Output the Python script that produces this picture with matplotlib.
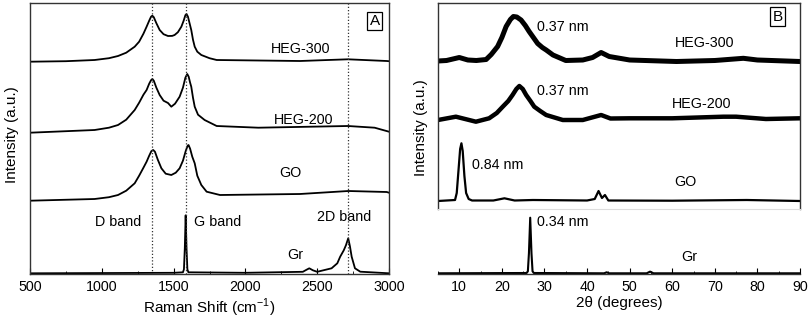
import matplotlib
matplotlib.use("Agg")
import matplotlib.pyplot as plt
from matplotlib.ticker import MultipleLocator

plt.rcParams["font.family"] = ["Liberation Sans", "DejaVu Sans"]

# ---- Panel A: Raman spectra (intensity above each trace's baseline) ----
heg300_raman_x = [500, 750, 950, 1050, 1113, 1170, 1229, 1260, 1290, 1312, 1330, 1343, 1352,
                  1362, 1380, 1403, 1430, 1461, 1490, 1507, 1530, 1554, 1570, 1582, 1590,
                  1600, 1612, 1623, 1635, 1647, 1665, 1693, 1750, 1800, 2380, 2714, 2984, 3000]
heg300_raman_y = [0, 0.5, 1.7, 3.5, 5.7, 9, 15, 20, 28, 35, 41, 45, 46,
                  44.5, 38.5, 31.7, 27.5, 25.7, 25.8, 26.7, 29.5, 35, 41, 46.5, 47.7,
                  45, 38, 31.7, 22, 15, 10, 6.7, 3.5, 1.7, 0.7, 2.4, 0.7, 0.5]

heg200_raman_x = [500, 750, 950, 1050, 1113, 1170, 1229, 1260, 1290, 1312, 1330, 1343, 1352,
                  1362, 1380, 1403, 1430, 1461, 1484, 1510, 1542, 1565, 1582, 1595, 1605,
                  1615, 1623, 1635, 1647, 1670, 1716, 1800, 2090, 2714, 2900, 3000]
heg200_raman_y = [0, 1.5, 2.7, 5, 7.7, 13, 22.7, 30, 38, 42.7, 49, 52.5, 53.7,
                  52, 45, 37.7, 32, 29.7, 26, 29, 36, 45, 55, 58.7, 56,
                  50, 46, 35, 26, 18, 12.7, 6.7, 5, 6.7, 5, 1]

go_raman_x = [500, 950, 1050, 1113, 1170, 1229, 1260, 1290, 1312, 1330, 1345, 1358, 1370,
              1390, 1415, 1445, 1484, 1515, 1542, 1565, 1585, 1598, 1604, 1615, 1630,
              1647, 1665, 1693, 1730, 1823, 2380, 2717, 2984, 3000]
go_raman_y = [0, 1.7, 3.5, 5.7, 10, 17.4, 25, 33, 39, 45, 49.5, 50.7, 49,
              41, 32.4, 27, 25.7, 28, 32.4, 40, 50, 55, 55.7, 52, 44,
              37.4, 25, 15.7, 9, 5.7, 6.7, 9.7, 8.7, 8]

gr_raman_x = [500, 1500, 1565, 1572, 1578, 1584, 1590, 1596, 1603, 2000, 2400, 2425, 2445,
              2470, 2500, 2600, 2640, 2660, 2685, 2700, 2716, 2728, 2740, 2763, 2800, 3000]
gr_raman_y = [0, 0.5, 1, 4, 25, 58, 25, 4, 1, 0.5, 1.5, 3.5, 5,
              3, 1.5, 5, 10, 16.6, 23, 28, 35, 27, 16.6, 5, 1.6, 0]

raman_offsets = [212.3, 141.3, 73.3, 0.7]
raman_names = ["HEG-300", "HEG-200", "GO", "Gr"]
band_positions = [1350, 1585, 2715]

# ---- Panel B: XRD patterns ----
heg300_xrd_x = [5, 7, 10, 12, 14, 16.3, 17.5, 19, 20, 21, 22, 22.7, 23.5, 24.5, 25.5,
                26.4, 27.4, 28.4, 29.5, 30.4, 32, 35, 39, 41.3, 43.3, 45.2, 50, 61, 70,
                76.7, 80, 90]
heg300_xrd_y = [0.5, 1, 4, 1.5, 1, 2, 7, 15, 24, 35, 42, 45, 44.5, 41.5, 36,
                30, 24, 18, 14, 11.5, 6.5, 1, 1.5, 4, 9, 5, 1.5, 0, 1,
                3.2, 1.5, 0]

heg200_xrd_x = [5, 9.2, 13.9, 17, 18.8, 20.2, 21.5, 22.5, 23.4, 24.1, 24.9, 25.7, 26.7,
                27.6, 29, 30.4, 34.3, 39, 43.3, 45.5, 50, 60, 72, 75, 82, 90]
heg200_xrd_y = [0, 3.3, -1.7, 1.7, 7, 13.3, 19, 25, 31, 34, 31, 25, 19,
                13.3, 9, 5, 0, 0, 5, 1.5, 1.7, 1.7, 3.3, 3.3, 1, 1.7]

go_xrd_x = [5, 9, 9.4, 9.8, 10.2, 10.5, 10.8, 11.2, 11.6, 12.2, 13, 18, 20.6, 23, 27.3,
            40, 41.8, 42.7, 43.5, 44.2, 45, 60, 77.5, 90]
go_xrd_y = [0, 1, 8, 30, 52, 57.7, 50, 25, 8, 2, 0.5, 0.5, 2.7, 0.5, 1,
            0.5, 2, 10, 3, 6, 0.5, 0.3, 1, 0]

gr_xrd_x = [5, 25.8, 26.1, 26.35, 26.65, 26.95, 27.2, 27.5, 44, 44.6, 45.2, 54, 54.8,
            55.6, 90]
gr_xrd_y = [0, 0.3, 2, 20, 55.6, 20, 2, 0.3, 0, 1, 0, 0, 1.7,
            0, 0]

xrd_offsets = [212.5, 154, 73, 0.7]
xrd_names = ["HEG-300", "HEG-200", "GO", "Gr"]
spacing_labels = ["0.37 nm", "0.37 nm", "0.84 nm", "0.34 nm"]

W, H = 808, 322
fig = plt.figure(figsize=(W / 100, H / 100), dpi=100)
fig.patch.set_facecolor("white")


def frac(x0, y0, x1, y1):
    return [x0 / W, 1 - y1 / H, (x1 - x0) / W, (y1 - y0) / H]


spine_color = "#333333"
fs = 10.3

# Panel A
ax = fig.add_axes(frac(30, 3, 389, 274))
raman_x = [heg300_raman_x, heg200_raman_x, go_raman_x, gr_raman_x]
raman_y = [heg300_raman_y, heg200_raman_y, go_raman_y, gr_raman_y]
for xs, ys, off in zip(raman_x, raman_y, raman_offsets):
    ax.plot(xs, [v + off for v in ys], color="black", lw=1.3)
for pos in band_positions:
    ax.axvline(pos, color="#333333", lw=0.9, ls=(0, (1, 1.6)))
ax.set_xlim(500, 3000)
ax.set_ylim(0, 271)
ax.set_yticks([])
ax.xaxis.set_major_locator(MultipleLocator(500))
ax.xaxis.set_minor_locator(MultipleLocator(250))
ax.tick_params(axis="x", which="major", direction="in", length=4, labelsize=fs, pad=4)
ax.tick_params(axis="x", which="minor", direction="in", length=2.5)
for s in ax.spines.values():
    s.set_color(spine_color)
    s.set_linewidth(1.0)
ax.text(2387, 225, raman_names[0], fontsize=fs, ha="center", va="center")
ax.text(2408, 154, raman_names[1], fontsize=fs, ha="center", va="center")
ax.text(2310, 101, raman_names[2], fontsize=fs, ha="center", va="center")
ax.text(2345, 19, raman_names[3], fontsize=fs, ha="center", va="center")
ax.text(1113, 52, "D band", fontsize=fs, ha="center", va="center")
ax.text(1810, 52, "G band", fontsize=fs, ha="center", va="center")
ax.text(2687, 57, "2D band", fontsize=fs, ha="center", va="center")
ax.text(2900, 253, "A", fontsize=11, ha="center", va="center",
        bbox=dict(boxstyle="square,pad=0.15", fc="white", ec="black", lw=0.9))
ax.set_xlabel("Raman Shift (cm$^{\\mathregular{-1}}$)", fontsize=11, labelpad=2)
fig.text(12 / W, 1 - 135 / H, "Intensity (a.u.)", rotation=90, fontsize=11,
         ha="center", va="center")

# Panel B (upper: HEG-300, HEG-200, GO; lower: Gr)
axu = fig.add_axes(frac(438, 3, 800, 209))
axl = fig.add_axes(frac(438, 209, 800, 274), sharex=axu)
xrd_x = [heg300_xrd_x, heg200_xrd_x, go_xrd_x]
xrd_y = [heg300_xrd_y, heg200_xrd_y, go_xrd_y]
widths = [3.6, 3.2, 1.6]
for xs, ys, off, lw in zip(xrd_x, xrd_y, xrd_offsets[:3], widths):
    axu.plot(xs, [v + off for v in ys], color="black", lw=lw)
axl.plot(gr_xrd_x, [v + xrd_offsets[3] for v in gr_xrd_y], color="black", lw=1.5)
axu.set_xlim(5, 90)
axu.set_ylim(65, 271)
axl.set_ylim(0, 65)
for a in (axu, axl):
    a.set_yticks([])
    for s in a.spines.values():
        s.set_color(spine_color)
        s.set_linewidth(1.0)
axu.spines["bottom"].set_color("#dddddd")
axu.spines["bottom"].set_linewidth(0.8)
axu.tick_params(axis="x", which="both", bottom=False, labelbottom=False)
axl.spines["left"].set_visible(False)
axl.spines["right"].set_visible(False)
axl.spines["top"].set_visible(False)
axl.patch.set_alpha(0)
axl.xaxis.set_major_locator(MultipleLocator(10))
axl.xaxis.set_minor_locator(MultipleLocator(5))
axl.tick_params(axis="x", which="major", direction="in", length=4, labelsize=fs, pad=4)
axl.tick_params(axis="x", which="minor", direction="in", length=2.5)

axu.text(34.4, 247.3, spacing_labels[0], fontsize=fs, ha="center", va="center")
axu.text(67.5, 230.7, xrd_names[0], fontsize=fs, ha="center", va="center")
axu.text(34.3, 183, spacing_labels[1], fontsize=fs, ha="center", va="center")
axu.text(67.0, 170, xrd_names[1], fontsize=fs, ha="center", va="center")
axu.text(19.1, 109, spacing_labels[2], fontsize=fs, ha="center", va="center")
axu.text(63.2, 92.3, xrd_names[2], fontsize=fs, ha="center", va="center")
axu.text(84.7, 257.3, "B", fontsize=11, ha="center", va="center",
         bbox=dict(boxstyle="square,pad=0.15", fc="white", ec="black", lw=0.9))
axl.text(34.2, 52.3, spacing_labels[3], fontsize=fs, ha="center", va="center")
axl.text(63.9, 17.3, xrd_names[3], fontsize=fs, ha="center", va="center")
axl.set_xlabel("2\u03b8 (degrees)", fontsize=11, labelpad=2)
fig.text(421 / W, 1 - 128 / H, "Intensity (a.u.)", rotation=90, fontsize=11,
         ha="center", va="center")

fig.savefig("out.png", dpi=100, facecolor="white")
